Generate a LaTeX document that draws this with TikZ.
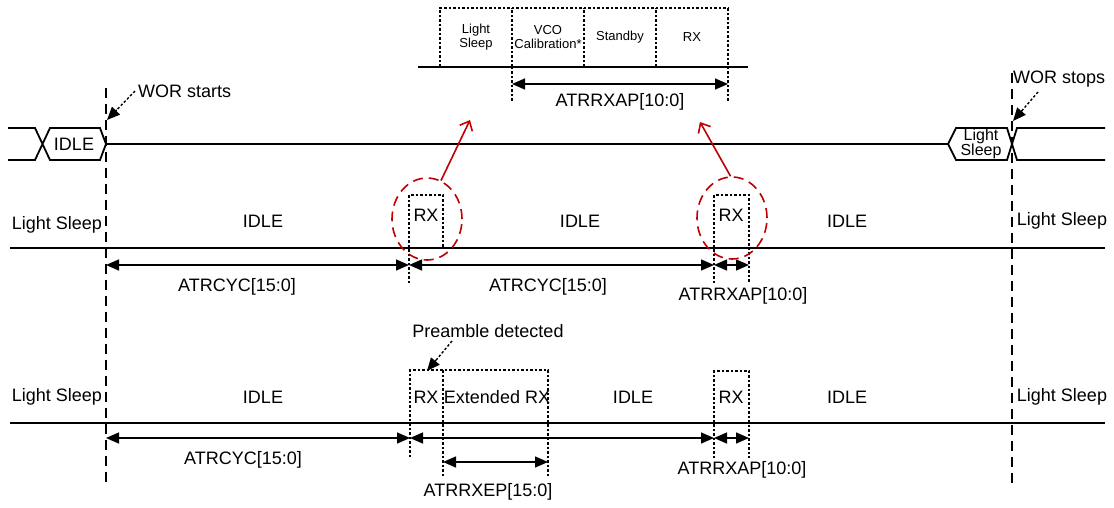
\documentclass[tikz,border=0pt]{standalone}
\usepackage{fontspec}
\setmainfont{Liberation Sans}
\usepackage{xcolor}
\usepackage{tikz}
\usetikzlibrary{arrows.meta,positioning,calc,shapes.geometric}
\definecolor{ringred}{RGB}{192,0,0}

\begin{document}
\begin{tikzpicture}[x=1pt,y=-1pt,
  every node/.style={font=\fontsize{18}{20}\selectfont,inner sep=0pt},
  small/.style={font=\fontsize{13}{14.5}\selectfont,align=center},
  sig/.style={line width=1.8pt},
  dotbox/.style={line width=1.4pt,dash pattern=on 2.5pt off 2pt},
  wor/.style={line width=1.5pt,dash pattern=on 10pt off 6pt},
  dim/.style={line width=1.4pt,{Triangle[length=13pt,width=11pt]}-{Triangle[length=13pt,width=11pt]}},
  hint/.style={line width=1.4pt,dash pattern=on 2.5pt off 2pt,shorten >=10pt},
  hinthead/.style={line width=1.4pt,-{Triangle[length=13pt,width=11pt]}},
  ring/.style={draw=ringred,ellipse,line width=1.6pt,dash pattern=on 10pt off 6pt,minimum width=70pt,minimum height=82pt},
  zoomarrow/.style={ringred,line width=1.6pt,-{Straight Barb[length=8pt,width=14pt]}}]
  \useasboundingbox (0,0) rectangle (1114,508);

  % WOR start / stop marks
  \draw[wor] (106,88) -- (106,487);
  \draw[wor] (1012,73) -- (1012,487);
  \node[right] (worstart) at (138,91) {WOR starts};
  \node[right] (worstop) at (1013,79) {WOR stops};
  \coordinate (starttail) at (135,91);
  \coordinate (startpt) at (107,120);
  \coordinate (stoptail) at (1038,92);
  \coordinate (stoppt) at (1013,121);
  \draw[hint] (starttail) -- (startpt);
  \draw[hinthead] ($(startpt)!14pt!(starttail)$) -- (startpt);
  \draw[hint] (stoptail) -- (stoppt);
  \draw[hinthead] ($(stoppt)!14pt!(stoptail)$) -- (stoppt);

  % detail of one RX slot
  \draw[sig] (418,67) -- (748,67);
  \draw[dotbox] (440,67) -- (440,8) -- (728,8);
  \foreach \x in {512,584,656}{
    \draw[dotbox] (\x,67) -- (\x,8);
  }
  \draw[dotbox] (512,67) -- (512,101);
  \draw[dotbox] (728,101) -- (728,8);
  \node[small] (ls) at (476,37) {Light\\Sleep};
  \node[small] (vco) at (548,37) {VCO\\Calibration*};
  \node[small] (stb) at (620,37) {Standby};
  \node[small] (rxd) at (692,37) {RX};
  \coordinate (apa) at (512,84);
  \coordinate (apb) at (728,84);
  \draw[dim] (apa) -- (apb);
  \node (aplabel) at (620,102) {ATRRXAP[10:0]};

  % state bus
  \draw[sig] (8,128) -- (35,128) -- (50,160) -- (100,160) -- (106,144) -- (100,128) -- (50,128) -- (35,160) -- (8,160);
  \node (busidle) at (74,144) {IDLE};
  \draw[sig] (106,144) -- (948,144);
  \draw[sig] (948,144) -- (956,128) -- (1007,128) -- (1017,160) -- (1105,160);
  \draw[sig] (948,144) -- (956,160) -- (1007,160) -- (1017,128) -- (1105,128);
  \node[font=\fontsize{16}{15}\selectfont,align=center] (busls) at (981,144) {Light\\Sleep};

  % row 2: no preamble
  \draw[sig] (10,248) -- (1105,248);
  \draw[dotbox] (409,283) -- (409,195) -- (443,195) -- (443,248);
  \draw[dotbox] (714,283) -- (714,195) -- (749,195) -- (749,283);
  \node (lsa) at (57,225) {Light Sleep};
  \node (idlea) at (263,221) {IDLE};
  \node (rxa) at (426,215) {RX};
  \node (idleb) at (580,221) {IDLE};
  \node (rxb) at (731,215) {RX};
  \node (idlec) at (847,221) {IDLE};
  \node (lsb) at (1062,221) {Light Sleep};
  \coordinate (ra) at (106,265);
  \coordinate (rb) at (409,265);
  \coordinate (rc) at (714,265);
  \coordinate (rd) at (749,265);
  \draw[dim] (ra) -- (rb);
  \draw[dim] (rb) -- (rc);
  \draw[dim] (rc) -- (rd);
  \node (cyca) at (237,287) {ATRCYC[15:0]};
  \node (cycb) at (548,287) {ATRCYC[15:0]};
  \node (rxapa) at (743,296) {ATRRXAP[10:0]};
  \node[ring] (ringa) at (427,219) {};
  \node[ring] (ringb) at (732,218) {};
  \draw[zoomarrow] (ringa.70) -- (470,120);
  \draw[zoomarrow] (ringb.92) -- (700,122);

  % row 3: preamble detected
  \draw[sig] (10,423) -- (1105,423);
  \draw[dotbox] (410,457) -- (410,370) -- (548,370) -- (548,477);
  \draw[dotbox] (443,370) -- (443,477);
  \draw[dotbox] (714,458) -- (714,371) -- (749,371) -- (749,458);
  \node (lsc) at (57,397) {Light Sleep};
  \node (idled) at (263,397) {IDLE};
  \node (rxc) at (426,397) {RX};
  \node (extrx) at (497,397) {Extended RX};
  \node (idlee) at (633,397) {IDLE};
  \node (rxe) at (731,397) {RX};
  \node (idlef) at (847,397) {IDLE};
  \node (lsd) at (1062,397) {Light Sleep};
  \node (preamble) at (488,331) {Preamble detected};
  \coordinate (pretail) at (452,341);
  \coordinate (prept) at (427,371);
  \draw[hint] (pretail) -- (prept);
  \draw[hinthead] ($(prept)!14pt!(pretail)$) -- (prept);
  \coordinate (sa) at (106,438);
  \coordinate (sb) at (410,438);
  \coordinate (sc) at (714,438);
  \coordinate (sd) at (749,438);
  \coordinate (ea) at (443,462);
  \coordinate (eb) at (548,462);
  \draw[dim] (sa) -- (sb);
  \draw[dim] (sb) -- (sc);
  \draw[dim] (sc) -- (sd);
  \draw[dim] (ea) -- (eb);
  \node (cycc) at (243,460) {ATRCYC[15:0]};
  \node (rxep) at (488,492) {ATRRXEP[15:0]};
  \node (rxapb) at (742,470) {ATRRXAP[10:0]};
\end{tikzpicture}
\end{document}
